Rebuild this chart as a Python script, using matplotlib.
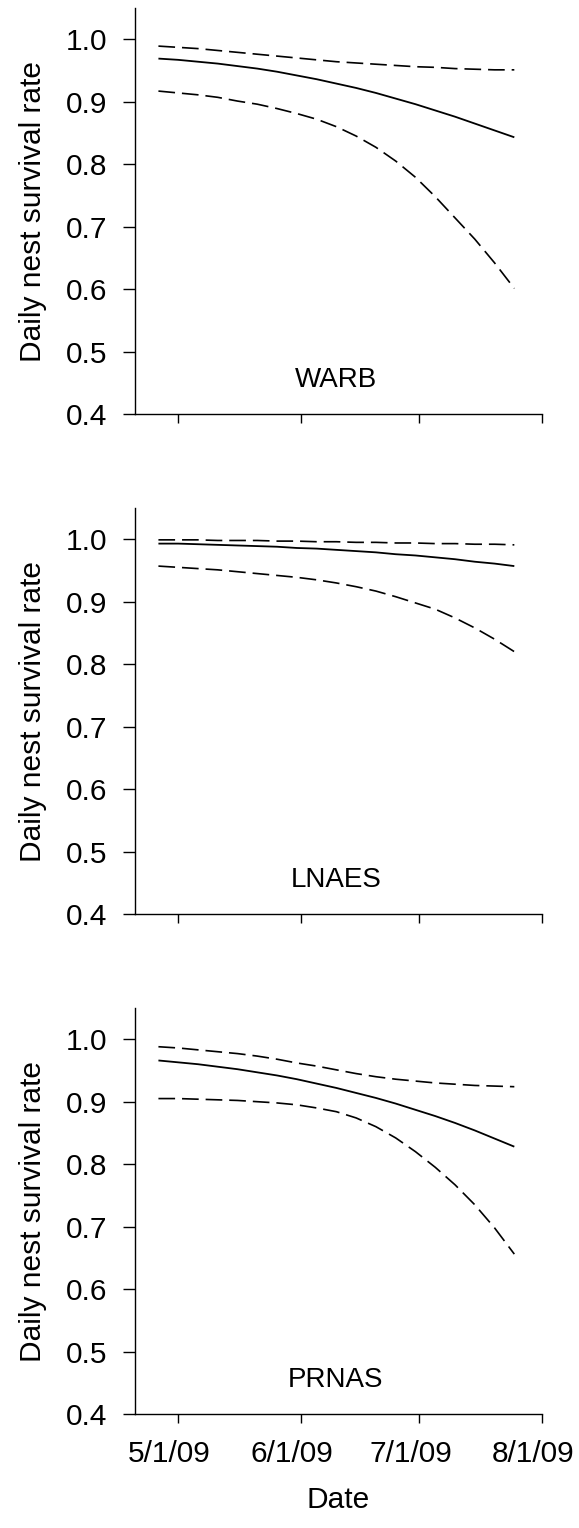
import datetime as dt
import matplotlib
matplotlib.use("Agg")
import matplotlib.pyplot as plt
import matplotlib.transforms as mtransforms

plt.rcParams['font.family'] = ['Liberation Sans', 'DejaVu Sans']
plt.rcParams['lines.scale_dashes'] = False

# ---- data ----
dates = ["2009-04-26", "2009-05-01", "2009-05-06", "2009-05-11", "2009-05-16",
         "2009-05-21", "2009-05-26", "2009-05-31", "2009-06-05", "2009-06-10",
         "2009-06-15", "2009-06-20", "2009-06-25", "2009-06-30", "2009-07-05",
         "2009-07-10", "2009-07-15", "2009-07-20", "2009-07-25"]

species = ["WARB", "LNAES", "PRNAS"]

warb_est = [.969, .967, .964, .961, .957, .953, .948, .942, .936, .929,
            .922, .914, .905, .896, .886, .876, .865, .854, .843]
warb_upper = [.989, .987, .985, .982, .979, .976, .973, .970, .967, .964,
              .962, .960, .958, .956, .955, .953, .952, .951, .951]
warb_lower = [.917, .914, .911, .907, .901, .896, .889, .881, .872, .860,
              .845, .827, .805, .779, .748, .714, .680, .642, .601]

lnaes_est = [.993, .993, .992, .991, .990, .989, .988, .986, .985, .983,
             .981, .979, .976, .974, .971, .968, .964, .961, .957]
lnaes_upper = [.999, .999, .999, .998, .998, .998, .997, .997, .996, .996,
               .995, .995, .994, .994, .993, .993, .992, .992, .991]
lnaes_lower = [.957, .955, .953, .951, .948, .945, .942, .939, .935, .930,
               .924, .917, .908, .898, .888, .874, .858, .840, .820]

prnas_est = [.966, .963, .960, .956, .952, .947, .942, .936, .929, .922,
             .914, .906, .897, .887, .877, .866, .854, .841, .828]
prnas_upper = [.988, .986, .983, .980, .977, .973, .968, .962, .957, .951,
               .945, .940, .936, .933, .930, .928, .926, .925, .924]
prnas_lower = [.905, .905, .904, .903, .902, .900, .898, .895, .890, .884,
               .874, .860, .842, .820, .795, .767, .735, .698, .656]

tick_dates = ["2009-05-01", "2009-06-01", "2009-07-01", "2009-08-01"]
tick_labels = ["5/1/09", "6/1/09", "7/1/09", "8/1/09"]
y_ticks = [0.4, 0.5, 0.6, 0.7, 0.8, 0.9, 1.0]

series = [(warb_est, warb_upper, warb_lower),
          (lnaes_est, lnaes_upper, lnaes_lower),
          (prnas_est, prnas_upper, prnas_lower)]

x = [dt.datetime.strptime(d, "%Y-%m-%d") for d in dates]
xt = [dt.datetime.strptime(d, "%Y-%m-%d") for d in tick_dates]

W, H = 579, 1528
fig = plt.figure(figsize=(W / 100, H / 100), dpi=100)

left = 134.7 / W
width = (542 - 134.7) / W
height = 406 / H
bottoms_px = [414, 914, 1414]

for i, (name, (est, up, lo)) in enumerate(zip(species, series)):
    ax = fig.add_axes([left, 1 - bottoms_px[i] / H, width, height])
    ax.plot(x, est, color='black', lw=1.3, solid_capstyle='butt')
    ax.plot(x, up, color='black', lw=1.2, dashes=(12, 5))
    ax.plot(x, lo, color='black', lw=1.2, dashes=(12, 5))
    ax.set_xlim(dt.datetime(2009, 4, 20), dt.datetime(2009, 8, 1))
    ax.set_ylim(0.4, 1.05)
    ax.set_yticks(y_ticks)
    ax.set_yticklabels([f"{v:.1f}" for v in y_ticks])
    ax.set_xticks(xt)
    if i == 2:
        ax.set_xticklabels(tick_labels)
        ax.set_xlabel("Date", fontsize=21.5, labelpad=13)
    else:
        ax.set_xticklabels([])
    for s in ['top', 'right']:
        ax.spines[s].set_visible(False)
    for s in ['left', 'bottom']:
        ax.spines[s].set_linewidth(1.0)
    ax.tick_params(axis='y', direction='out', length=9, width=1.0,
                   labelsize=21.5, pad=11)
    ax.tick_params(axis='x', direction='out', length=6.7, width=1.0,
                   labelsize=21.5, pad=12)
    if i == 2:
        shift = mtransforms.ScaledTranslation(-9 / 100, 0, fig.dpi_scale_trans)
        for lab in ax.get_xticklabels():
            lab.set_transform(lab.get_transform() + shift)
    ax.set_ylabel("Daily nest survival rate", fontsize=21.5, labelpad=13)
    ax.text(0.494, 0.067, name, transform=ax.transAxes, ha='center',
            va='baseline', fontsize=20)

fig.savefig("out.png", dpi=100)
